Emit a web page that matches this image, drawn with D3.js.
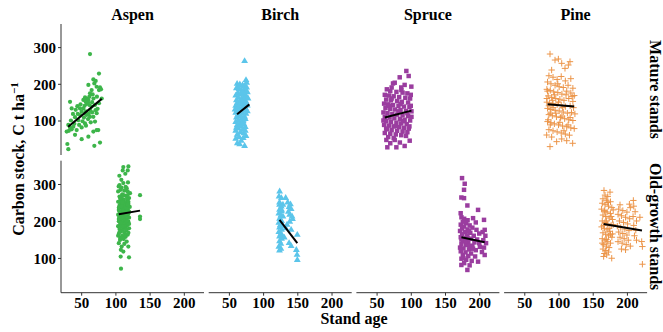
<!DOCTYPE html>
<html>
<head>
<meta charset="utf-8">
<script src="https://cdn.jsdelivr.net/npm/d3@7"></script>
<style>
  html, body { margin: 0; padding: 0; background: #fff; }
  svg text { font-family: "Liberation Serif", "Times New Roman", serif; font-weight: bold; fill: #000; }
</style>
</head>
<body>
<svg id="chart" width="663" height="332"></svg>
<script>
// Facet labels
const species = ["Aspen", "Birch", "Spruce", "Pine"];
const stands = ["Mature stands", "Old-growth stands"];
const xTicks = [50, 100, 150, 200];
const yTicks = [100, 200, 300];

// Observations: [stand age, carbon stock]
const aspenMature = [[62.9,281],[76,228],[67.8,212],[71.2,208],[69.2,201],[60.5,197],[72.6,192],[77.5,190],[76,183],[79,185],[65.3,183],[62.9,174],[66.8,171],[33.7,151],[55.6,163],[58,160],[60.5,156],[53.2,156],[56.6,151],[44.4,139],[48.3,133],[42,129],[36.1,133],[62,142],[65.3,138],[53.2,133],[70.2,142],[76,147],[50.7,124],[55.6,119],[58,115],[48.3,115],[62.9,110],[41,109],[45.8,101],[67.8,110],[72.6,120],[70.2,97],[31.2,88],[33.7,81],[38.5,83],[50.7,81],[55.6,92],[28.8,70],[36.1,76],[43.4,74],[75,74],[67.8,70],[41,61],[50.7,49],[60.5,56],[72.6,74],[29.8,36],[31.2,22],[69.2,31],[77.5,40],[58,145],[60,150],[63,128],[57,125],[66,122],[60,104],[54,108],[52,98],[64,95],[47,88],[57,86],[40,91],[35,100],[45,118],[68,160],[73,165],[80,160],[74,132],[61,118],[66,150],[55,140],[71,128],[49,144],[38,118],[62,165],[32,72]];
const aspenOld = [[111.6,345.7],[119,347.5],[110.7,336.7],[118,336.7],[105.8,322.3],[114.5,327.7],[108.7,311.4],[104.8,293.4],[111.6,302.4],[118.4,304.2],[116.5,288.8],[107.7,284.3],[121.4,275.3],[136,269.8],[136,212],[136,205],[106,297],[109,290],[113,282],[104,280],[118,280],[110,272],[115,268],[106,266],[120,262],[112,258],[108,255],[117,254],[104,252],[114,249],[119,246],[110,245],[106,242],[116,240],[121,238],[108,236],[112,234],[118,232],[105,230],[114,228],[110,226],[120,225],[107,223],[116,221],[112,219],[104,217],[118,216],[109,214],[114,212],[106,210],[120,209],[111,207],[116,205],[108,203],[113,201],[105,199],[119,198],[110,196],[115,194],[107,192],[112,190],[117,188],[104,186],[109,184],[114,182],[120,180],[106,178],[111,176],[116,174],[108,171],[113,168],[105,165],[118,163],[110,160],[115,157],[107,154],[112,151],[106.8,148.8],[116.5,144.3],[109.2,130.8],[118.9,130.8],[111.6,117.2],[107.7,103.7],[119.9,101.8],[108.2,71.1],[105,140],[113,138],[108,122],[117,260],[109,264],[113,244],[107,250],[119,252],[105,236],[117,228],[111,232],[115,215],[108,218],[112,243],[106,226],[119,220],[110,210],[105,205],[117,200],[113,186],[108,195],[116,178],[111,186],[106,170],[119,168],[114,160],[109,155],[104,160],[120,192],[112,270],[115,292],[107,260],[118,270],[110,250],[114,237],[106,212],[116,235],[112,224],[109,240],[118,244]];
const birchMature = [[73,262],[75,210],[76,203],[62,200],[66,198],[70,196],[73,194],[76,190],[61,188],[65,186],[68,184],[72,182],[75,180],[77,177],[63,175],[67,172],[71,170],[60,168],[74,167],[76,164],[64,162],[69,160],[72,158],[61,155],[66,153],[75,152],[70,150],[62,147],[73,146],[67,143],[77,141],[60,140],[64,137],[71,136],[74,134],[68,131],[62,128],[72,127],[65,124],[60,121],[70,120],[75,118],[63,115],[67,112],[73,110],[61,108],[69,106],[74,104],[64,101],[71,98],[60,96],[66,93],[72,90],[62,87],[68,84],[74,82],[64,78],[70,75],[60,72],[67,68],[72,65],[62,61],[75,58],[65,55],[60,50],[71,52],[62.3,38],[65.8,35],[73,30.6],[68,45],[77,125],[78,160],[59,130],[63,190],[70,178],[73,138],[66,118],[71,102],[61,80],[69,90],[74,72]];
const birchOld = [[124.2,279.8],[123.3,266.3],[126.7,261.7],[133,262],[124,243.7],[126.7,239.2],[138.8,216.6],[142.3,212],[124,230],[127,226],[123,220],[126,215],[129,212],[124,206],[127,200],[123,195],[126,190],[129,186],[124,182],[127,176],[123,170],[126,165],[124,158],[127,152],[124,145],[126,138],[123,130],[126,125],[124,120],[127,230],[136,250],[140,245],[138,238],[141,232],[137,225],[143,205],[139,198],[141,176],[150,162.4],[148.6,121.7],[149.6,108.2],[150,94.6],[138,140],[141,132],[135,190],[133,180],[131,155],[124,250],[129,244],[125,188],[128,160]];
const spruceMature = [[93.5,235],[96.9,221.3],[83.8,217.7],[74,201],[76.5,203],[91,197],[100.8,192.3],[86.2,183],[65,185],[70,180],[79,178],[88,176],[95,174],[62,170],[68,168],[75,166],[83,164],[92,162],[99,160],[64,157],[71,155],[80,153],[87,151],[96,149],[61,146],[67,144],[74,142],[82,140],[90,138],[98,137],[63,134],[70,132],[77,130],[85,128],[93,126],[101,125],[60,122],[66,120],[73,118],[80,116],[88,114],[96,112],[62,110],[69,108],[76,106],[84,104],[91,102],[99,100],[64,98],[71,96],[79,94],[86,92],[94,90],[61,88],[68,86],[75,84],[83,82],[90,80],[97,78],[65,76],[72,74],[80,72],[88,70],[95,68],[62,66],[70,64],[78,62],[86,60],[93,58],[67,55],[75,52],[64.3,47],[76.5,47],[98.4,45],[65.7,27],[78.9,27],[91,30.6],[84,40],[70,38],[100,140],[101,110],[60,100],[98,84],[86,190],[72,190],[95,120],[82,125],[68,140],[89,98],[78,85],[64,78],[100,170],[72,160],[85,145]];
const spruceOld = [[174.9,315.9],[178.8,300.6],[177.8,284.3],[173.9,263.5],[177.8,261.7],[182.7,241.9],[172.9,221],[198.3,230],[191,207.6],[207,203],[174,210],[178,206],[183,202],[176,198],[181,194],[173,190],[186,188],[178,185],[190,182],[175,180],[183,177],[196,176],[208,176],[172,173],[179,170],[187,168],[200,166],[205,170],[175,164],[182,161],[192,160],[209,160],[173,156],[180,153],[188,152],[197,150],[206,148],[176,146],[184,143],[193,142],[210,140],[174,138],[181,135],[190,133],[201,130],[207,128],[177,126],[185,123],[195,121],[173,118],[180,115],[188,112],[176,108],[184,105],[194,104],[208,108],[174,98],[181,95],[189,92],[198.3,90],[173.9,81],[182.7,67.5],[178,86],[186,80],[172,128],[179,145],[186,132],[183,155],[174,150],[200,140],[191,125],[204,116],[177,100],[185,172],[195,196]];
const pineMature = [[87.6,281.2],[94.9,264.8],[99.8,267.6],[104.7,255.8],[109.5,242.1],[116.8,260.3],[114.4,251.2],[90,237.6],[86,222],[92,218],[98,212],[104,220],[110,208],[118,214],[84,205],[89,200],[95,196],[101,192],[107,190],[114,196],[121,188],[83,185],[88,182],[93,178],[99,176],[105,172],[111,170],[118,175],[123,168],[85,167],[90,163],[96,160],[102,158],[108,155],[115,160],[121,152],[83,150],[87,148],[92,146],[98,143],[104,141],[110,138],[117,140],[122,135],[84,133],[89,130],[95,128],[101,126],[107,123],[113,120],[119,122],[124,118],[86,116],[91,113],[97,110],[103,108],[109,105],[115,102],[121,100],[84,97],[89,94],[94,91],[100,88],[106,85],[112,83],[118,80],[123,78],[86,75],[92,72],[98,69],[104,66],[110,63],[116,60],[87.6,28.8],[120.7,37.9],[97.3,42.4],[104.7,49.7],[82.7,60.5],[90,55],[112,45],[84,180],[86,140],[88,120],[85,102],[100,150],[106,135],[94,170],[112,180],[120,165],[96,120],[102,95],[88,88],[108,72],[114,88],[92,135],[83,160],[99,200],[105,112],[117,108],[91,155]];
const pineOld = [[166.5,282.6],[175.3,278],[168,270],[172,266],[165,260],[170,256],[176,252],[164,248],[168,244],[173,240],[178,236],[163,232],[167,228],[171,224],[176,220],[165,216],[169,212],[174,208],[179,204],[164,200],[168,196],[172,192],[177,188],[163,184],[167,180],[171,176],[175,172],[165,168],[169,164],[173,160],[178,156],[164,152],[168,148],[172,144],[176,140],[166,136],[170,132],[174,128],[165,124],[169,120],[173,116],[167,112],[170.5,108.2],[177.8,99.2],[166,104],[180,230],[180,190],[179,165],[209.4,255.5],[203.6,245.5],[189.9,243.7],[188,232],[194,228],[200,224],[205,236],[187,218],[192,214],[198,210],[204,206],[189,200],[195,196],[201,192],[186,186],[191,182],[197,178],[203,174],[188,170],[194,166],[200,162],[190,156],[196,152],[202,148],[187,144],[193,140],[199,136],[205,132],[210,240],[212,225],[209,212],[214,200],[210,188],[213,175],[211,160],[214,148],[221.6,144.3],[222.6,130.8],[222.6,83],[219,210],[192,124],[198,122],[166,188],[170,200],[174,180],[168,225],[172,250],[176,164],[164,140],[170,150],[177,212]];

// Linear fits: [[age start, carbon], [age end, carbon]]
const aspenMatureFit = [[31,83],[80,159]];
const aspenOldFit = [[105,218],[136,228]];
const birchMatureFit = [[62,117],[80,144]];
const birchOldFit = [[124,203],[150,140]];
const spruceMatureFit = [[62,108],[101,127]];
const spruceOldFit = [[174,156],[208,142.5]];
const pineMatureFit = [[84,144],[123,138]];
const pineOldFit = [[166,192],[222,174]];

const points = {
  Aspen: [aspenMature, aspenOld], Birch: [birchMature, birchOld],
  Spruce: [spruceMature, spruceOld], Pine: [pineMature, pineOld]
};
const fits = {
  Aspen: [aspenMatureFit, aspenOldFit], Birch: [birchMatureFit, birchOldFit],
  Spruce: [spruceMatureFit, spruceOldFit], Pine: [pineMatureFit, pineOldFit]
};
const colors = { Aspen: "#3db54a", Birch: "#5bc5ea", Spruce: "#9a3d9f", Pine: "#ec9549" };
const shapes = { Aspen: "circle", Birch: "triangle", Spruce: "square", Pine: "plus" };

// Layout
const panelW = 143, panelGap = 4.7, left0 = 61;
const rowTop = [24, 160.7], rowH = [131, 132];
const svg = d3.select("#chart");

const x = d3.scaleLinear().domain([20.5, 229.5]).range([0, panelW]);
const yScales = rowTop.map((t, i) => d3.scaleLinear().domain([6, 363]).range([t + rowH[i], t]));

const symCircle = d3.symbol().type(d3.symbolCircle).size(14)();
const symTri = d3.symbol().type(d3.symbolTriangle).size(20)();
const symSquare = d3.symbol().type(d3.symbolSquare).size(20)();

species.forEach((sp, c) => {
  const px = left0 + c * (panelW + panelGap);
  // strip title
  svg.append("text").attr("x", px + panelW / 2).attr("y", 20)
    .attr("text-anchor", "middle").attr("font-size", 16).text(sp);

  stands.forEach((st, r) => {
    const y = yScales[r];
    const g = svg.append("g").attr("transform", `translate(${px},0)`);
    const data = points[sp][r];
    const col = colors[sp];
    const sel = g.selectAll("path.pt").data(data).enter().append("path")
      .attr("class", "pt")
      .attr("transform", d => `translate(${x(d[0])},${y(d[1])})`);
    if (shapes[sp] === "plus") {
      sel.attr("d", "M-3.2,0H3.2M0,-3.2V3.2").attr("stroke", col)
        .attr("stroke-width", 1).attr("fill", "none");
    } else {
      const dpath = shapes[sp] === "circle" ? symCircle : shapes[sp] === "triangle" ? symTri : symSquare;
      sel.attr("d", dpath).attr("fill", col);
    }
    const f = fits[sp][r];
    g.append("line")
      .attr("x1", x(f[0][0])).attr("y1", y(f[0][1]))
      .attr("x2", x(f[1][0])).attr("y2", y(f[1][1]))
      .attr("stroke", "#000").attr("stroke-width", 2);

    // y axis on first column
    if (c === 0) {
      const ay = g.append("g").call(d3.axisLeft(y).tickValues(yTicks).tickSize(3).tickPadding(2));
      ay.select(".domain").attr("stroke", "#333").attr("d", `M0,${rowTop[r]}V${rowTop[r] + rowH[r]}`);
      ay.selectAll(".tick line").attr("stroke", "#333");
      ay.selectAll(".tick text").attr("font-size", 15).attr("font-family", "Liberation Serif, serif")
        .attr("font-weight", "bold").attr("fill", "#000").attr("dy", "0.35em");
    }
    // x axis on bottom row
    if (r === 1) {
      const ax = g.append("g").attr("transform", `translate(0,${rowTop[r] + rowH[r]})`)
        .call(d3.axisBottom(x).tickValues(xTicks).tickSize(3).tickPadding(2));
      ax.select(".domain").attr("stroke", "#333").attr("d", `M0,0H${panelW}`);
      ax.selectAll(".tick line").attr("stroke", "#333");
      ax.selectAll(".tick text").attr("font-size", 15).attr("font-family", "Liberation Serif, serif")
        .attr("font-weight", "bold").attr("fill", "#000");
    }
    // right-hand row strips
    if (c === species.length - 1) {
      const cy = rowTop[r] + rowH[r] / 2;
      svg.append("text").attr("transform", `translate(650,${cy}) rotate(90)`)
        .attr("text-anchor", "middle").attr("font-size", 16).text(st);
    }
  });
});

// axis titles
svg.append("text").attr("x", 354).attr("y", 324).attr("text-anchor", "middle")
  .attr("font-size", 16).text("Stand age");
const yl = svg.append("text").attr("transform", "translate(24,159) rotate(-90)")
  .attr("text-anchor", "middle").attr("font-size", 16);
yl.append("tspan").text("Carbon stock, C t ha");
yl.append("tspan").attr("dy", -6).attr("font-size", 11).text("−1");
</script>
</body>
</html>
